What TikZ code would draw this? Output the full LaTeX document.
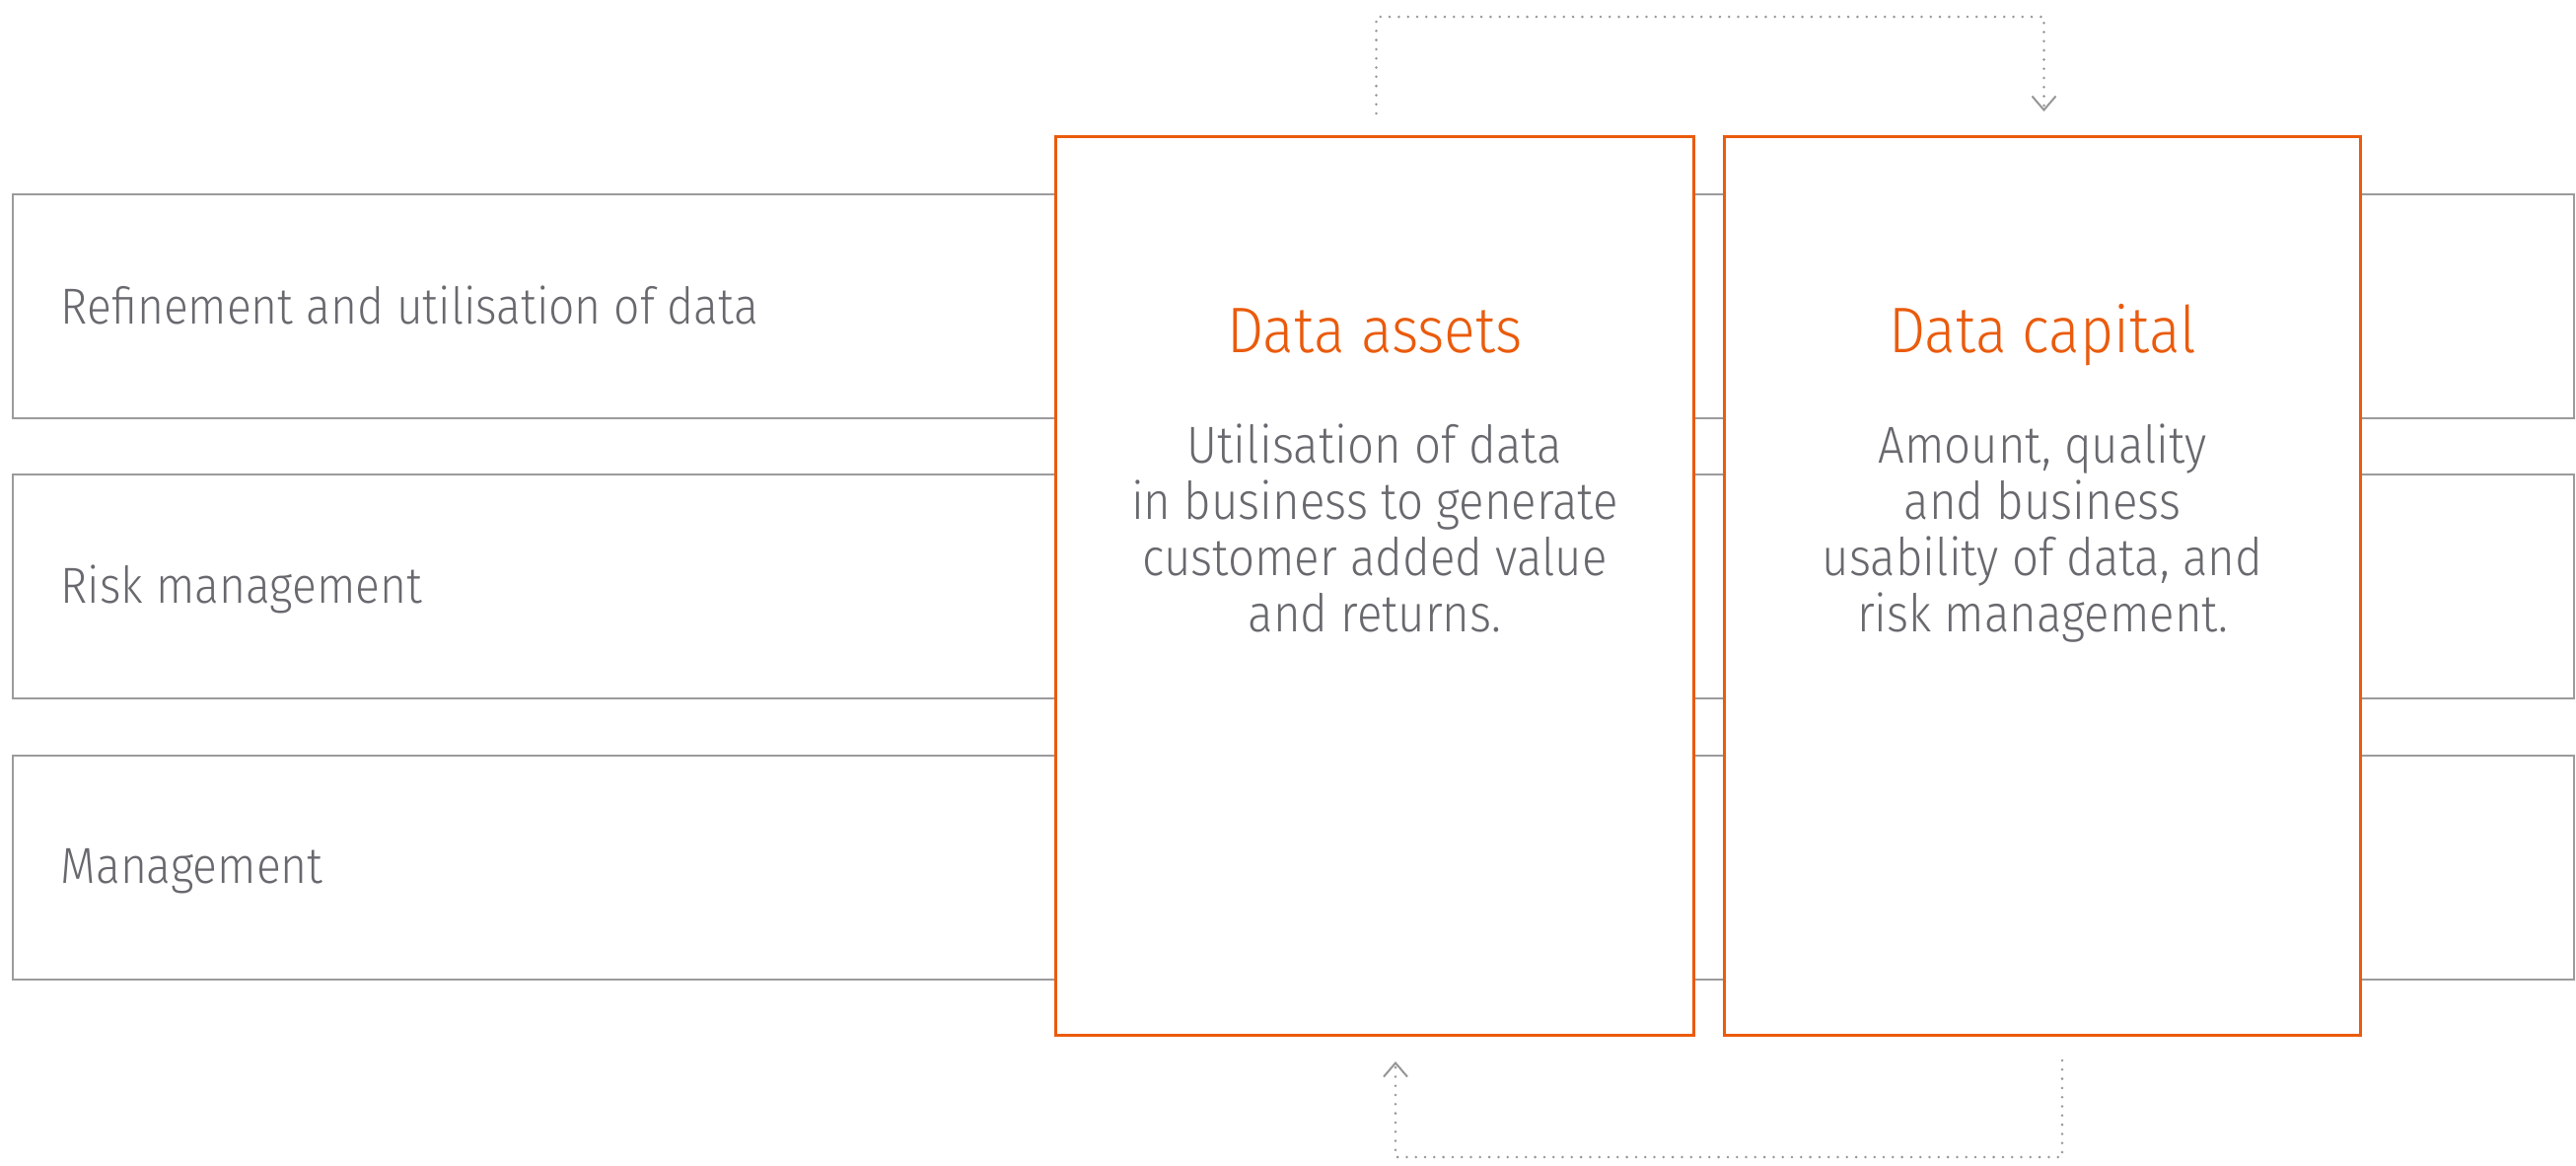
\documentclass[tikz,border=0pt]{standalone}
\usepackage{fontspec}
\setmainfont{Fira Sans Light}[FakeStretch=0.9]
\usetikzlibrary{arrows.meta,calc}
\definecolor{org}{RGB}{234,91,12}
\definecolor{txtgray}{RGB}{104,105,110}
\definecolor{linegray}{RGB}{155,155,155}
\definecolor{dotgray}{RGB}{150,150,150}
\begin{document}
\begin{tikzpicture}[x=0.1mm,y=-0.1mm,
 rowbox/.style={draw=linegray, line width=0.22mm, minimum width=259.7mm, minimum height=22.7mm, anchor=north west, inner sep=0pt},
 rowlabel/.style={text=txtgray, font=\fontsize{14.6pt}{17pt}\selectfont, anchor=base west, inner sep=0pt},
 corebox/.style={draw=org, fill=white, line width=0.3mm, minimum height=91.1mm, anchor=north west, inner sep=0pt},
 head/.style={text=org, font=\fontsize{18.6pt}{22pt}\selectfont, anchor=base, inner sep=0pt},
 body/.style={text=txtgray, font=\fontsize{15pt}{16.2pt}\selectfont, align=center, anchor=base, inner sep=0pt},
 dotconn/.style={draw=dotgray, line width=0.28mm, dash pattern=on 0pt off 0.93mm, line cap=round},
 tip/.style={-{Straight Barb[length=1.4mm,width=2.4mm,line width=0.2mm]}}
]
\useasboundingbox (0,0) rectangle (2612,1181);
% rows
\node[rowbox] (r1) at (12,196) {};
\node[rowbox] (r2) at (12,480) {};
\node[rowbox] (r3) at (12,765) {};
\node[rowlabel] (l1) at (61,328) {Refinement and utilisation of data};
\node[rowlabel] (l2) at (61,611) {Risk management};
\node[rowlabel] (l3) at (61,895) {Management};
% core boxes
\node[corebox, minimum width=64.7mm] (da) at (1069,137) {};
\node[corebox, minimum width=64.5mm] (dc) at (1747,137) {};
\node[head] (dah) at (da.center |- 0,357) {Data assets};
\node[head] (dch) at (dc.center |- 0,357) {Data capital};
\node[body] (dab) at (da.center |- 0,640) {Utilisation of data\\in business to generate\\customer added value\\and returns.};
\node[body] (dcb) at (dc.center |- 0,640) {Amount, quality\\and business\\usability of data, and\\risk management.};
% connectors
\coordinate (t1) at ([xshift=0.15mm,yshift=2.2mm]da.north);
\coordinate (t2) at ([xshift=0.15mm,yshift=2.4mm]dc.north);
\draw[dotconn,tip] (t1) -- ([yshift=9.8mm]t1) -| (t2);
\coordinate (b1) at ([xshift=2mm,yshift=-2.4mm]dc.south);
\coordinate (b2) at ([xshift=2.1mm,yshift=-2.5mm]da.south);
\draw[dotconn,tip] (b1) -- ([yshift=-9.8mm]b1) -| (b2);
\end{tikzpicture}
\end{document}
